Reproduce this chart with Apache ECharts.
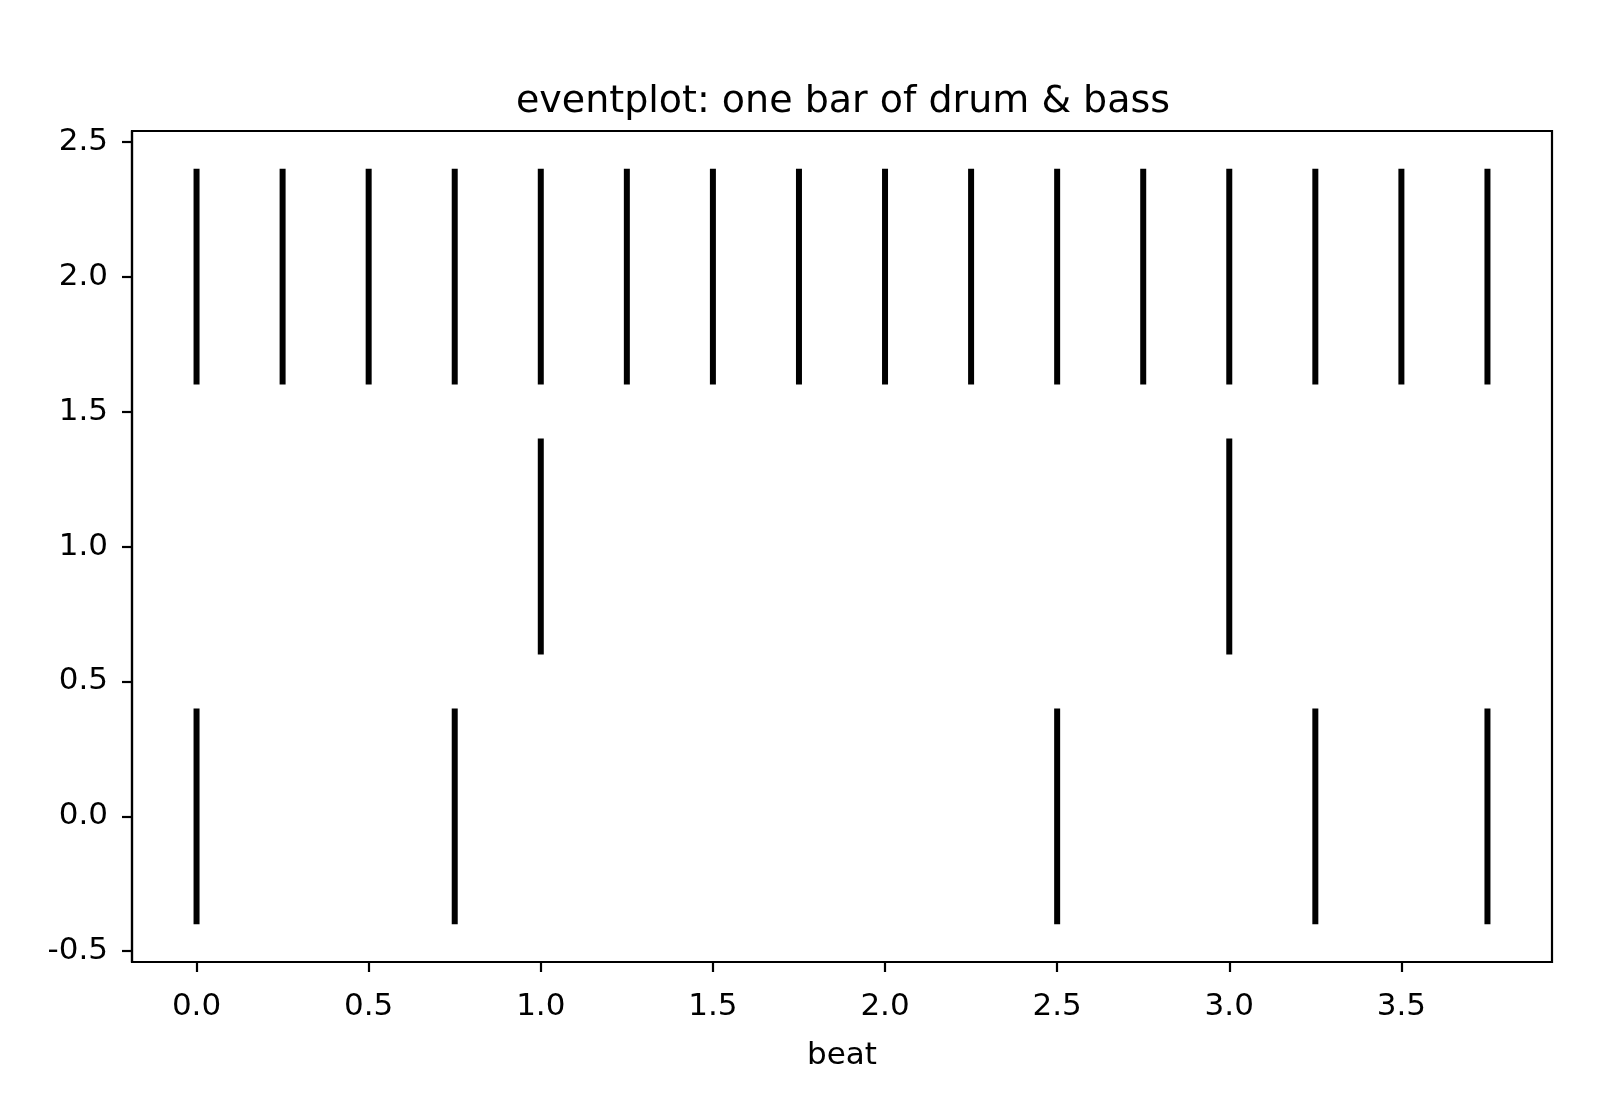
<!DOCTYPE html>
<html><head><meta charset="utf-8">
<script src="https://cdn.jsdelivr.net/npm/echarts@6/dist/echarts.min.js"></script>
<style>html,body{margin:0;padding:0;background:#fff}#c{width:1600px;height:1120px}</style>
</head><body><div id="c"></div>
<script>
// Event rows (row index -> beat times)
const rowOffsets = [0, 1, 2];
const kickBeats = [0, 0.75, 2.5, 3.25, 3.75];
const snareBeats = [1.0, 3.0];
const hatBeats = [0, 0.25, 0.5, 0.75, 1.0, 1.25, 1.5, 1.75, 2.0, 2.25, 2.5, 2.75, 3.0, 3.25, 3.5, 3.75];
const lineLength = 0.8;
const xTicks = [0.0, 0.5, 1.0, 1.5, 2.0, 2.5, 3.0, 3.5];
const yTicks = [-0.5, 0.0, 0.5, 1.0, 1.5, 2.0, 2.5];

const rows = [kickBeats, snareBeats, hatBeats];
const data = [];
rows.forEach((beats, i) => beats.forEach(b => data.push([b, rowOffsets[i]])));

const font = 'DejaVu Sans';
const chart = echarts.init(document.getElementById('c'));
chart.setOption({
  animation: false,
  backgroundColor: '#fff',
  title: {
    text: 'eventplot: one bar of drum & bass',
    left: 838, top: 78, textAlign: 'center',
    textStyle: {fontFamily: font, fontSize: 38, fontWeight: 'normal', color: '#000'}
  },
  grid: {left: 132, top: 131, right: 48, bottom: 158, show: true, borderColor: '#000', borderWidth: 2.2, containLabel: false},
  xAxis: {
    type: 'value', min: -0.1875, max: 3.9375,
    name: 'beat', nameLocation: 'middle', nameGap: 78,
    nameTextStyle: {fontFamily: font, fontSize: 31, color: '#000'},
    splitLine: {show: false},
    axisLine: {show: true, onZero: false, lineStyle: {color: '#000', width: 2.2}},
    axisTick: {show: true, length: 10, customValues: xTicks, lineStyle: {color: '#000', width: 2.2}},
    axisLabel: {customValues: xTicks, margin: 29, fontFamily: font, fontSize: 31, color: '#000', formatter: v => v.toFixed(1)}
  },
  yAxis: {
    type: 'value', min: -0.54, max: 2.54,
    splitLine: {show: false},
    axisLine: {show: true, onZero: false, lineStyle: {color: '#000', width: 2.2}},
    axisTick: {show: true, length: 10, customValues: yTicks, lineStyle: {color: '#000', width: 2.2}},
    axisLabel: {customValues: yTicks, margin: 24, fontFamily: font, fontSize: 31, color: '#000', formatter: v => v.toFixed(1)}
  },
  series: [{
    type: 'custom',
    data: data,
    clip: false,
    renderItem: (params, api) => {
      const x = api.value(0), y = api.value(1);
      const p1 = api.coord([x, y - lineLength / 2]);
      const p2 = api.coord([x, y + lineLength / 2]);
      return {type: 'line', shape: {x1: p1[0], y1: p1[1], x2: p2[0], y2: p2[1]},
        style: {stroke: '#000', lineWidth: 6, lineCap: 'butt'}};
    }
  }]
});
</script></body></html>
